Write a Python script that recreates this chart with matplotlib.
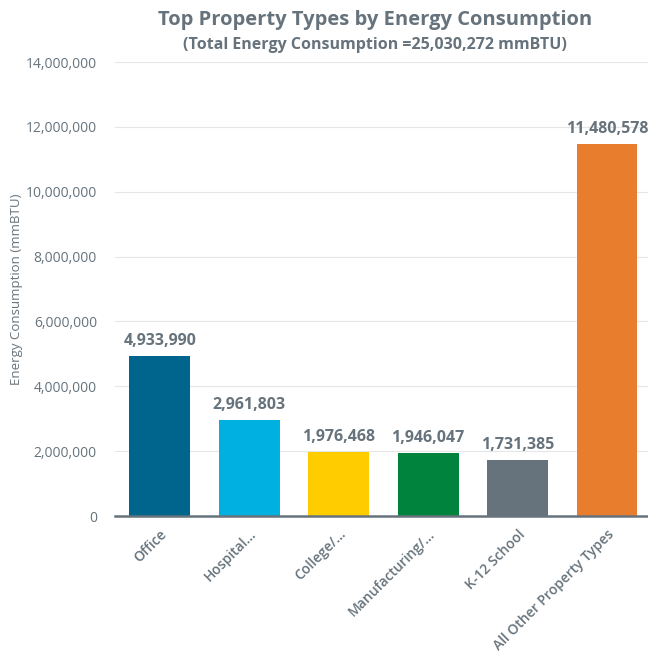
import matplotlib
matplotlib.use("Agg")
import matplotlib.pyplot as plt
from matplotlib.ticker import FuncFormatter

categories = ["Office", "Hospital...", "College/...", "Manufacturing/...",
              "K-12 School", "All Other Property Types"]
values = [4933990, 2961803, 1976468, 1946047, 1731385, 11480578]
colors = ["#00658c", "#00b0e0", "#ffcc00", "#00843d", "#66737c", "#e87d2d"]
yticks = [0, 2000000, 4000000, 6000000, 8000000, 10000000, 12000000, 14000000]

title = "Top Property Types by Energy Consumption"
subtitle = "(Total Energy Consumption =25,030,272 mmBTU)"
ylabel = "Energy Consumption (mmBTU)"

TEXT = "#66737c"
plt.rcParams["font.family"] = ["Open Sans", "DejaVu Sans"]

fig = plt.figure(figsize=(6.48, 6.52), dpi=100)
ax = fig.add_axes([115 / 648, (652 - 516) / 652, (648 - 115) / 648, (516 - 62) / 652])

x = list(range(len(categories)))
ax.bar(x, values, width=0.68, color=colors, zorder=3)

ax.set_xlim(-0.5, 5.458)
ax.set_ylim(0, 14000000)
ax.set_yticks(yticks)
ax.yaxis.set_major_formatter(FuncFormatter(lambda v, p: f"{int(v):,}"))
ax.grid(axis="y", color="#e6e6e6", linewidth=0.8, zorder=0)
ax.tick_params(axis="y", length=0, pad=13, labelsize=10, labelcolor=TEXT)
ax.tick_params(axis="x", length=0, pad=8, labelsize=10, labelcolor=TEXT)

ax.set_xticks(x)
ax.set_xticklabels(categories, rotation=45, ha="right", va="top",
                   rotation_mode="anchor", fontweight="semibold")

for s in ["top", "right", "left"]:
    ax.spines[s].set_visible(False)
ax.spines["bottom"].set_color(TEXT)
ax.spines["bottom"].set_linewidth(1.8)
ax.spines["bottom"].set_zorder(4)

for xi, v in zip(x, values):
    ax.annotate(f"{v:,}", (xi, v), xytext=(0, 5), textcoords="offset points",
                ha="center", va="bottom", fontsize=11.5, fontweight="bold",
                color=TEXT)

ax.set_ylabel(ylabel, fontsize=9.5, color=TEXT)
ax.yaxis.set_label_coords(-0.172, 0.5)

fig.text(375 / 648, 1 - 20 / 652, title, ha="center", va="center",
         fontsize=14.5, fontweight="bold", color=TEXT)
fig.text(375 / 648, 1 - 45 / 652, subtitle, ha="center", va="center",
         fontsize=11.5, fontweight="bold", color=TEXT)

fig.savefig("out.png", dpi=100)
